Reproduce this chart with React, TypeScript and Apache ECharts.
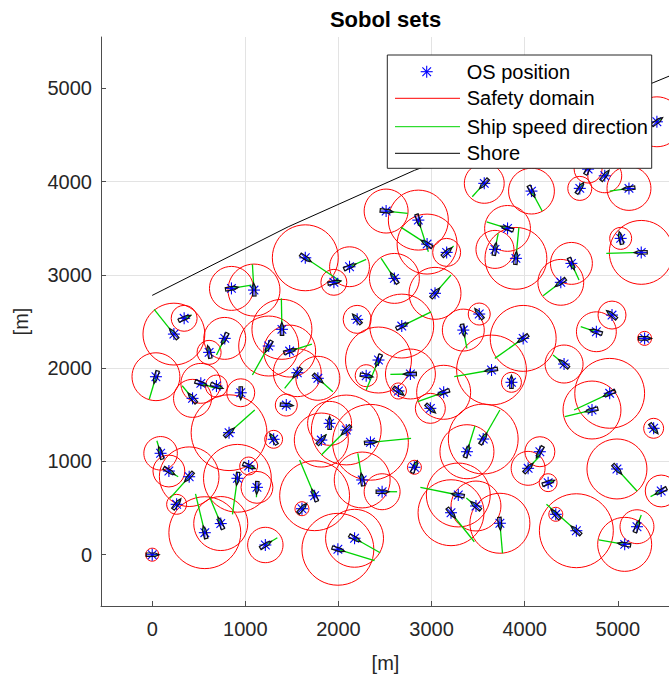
import React, { useEffect, useRef } from 'react';
import * as echarts from 'echarts';

// OS positions [x, y] in metres
const osPositions: [number, number][] = [
  [0, 0], [1215, 104], [565, 236], [736, 334], [262, 540], [397, 836], [179, 897], [90, 1087],
  [825, 1308], [1304, 1237], [915, 819], [1036, 951], [1125, 722], [1905, 1408], [1816, 1229],
  [2084, 1337], [2344, 1205], [2255, 801], [2469, 675], [2816, 937], [1744, 632], [1608, 493],
  [2173, 176], [1994, 58], [3287, 640], [3477, 522], [3209, 450], [3380, 1104], [3555, 1240],
  [3734, 337], [4163, 1104], [4037, 926], [4252, 772], [4334, 433], [4555, 257], [4991, 919],
  [5385, 1355], [5466, 683], [5206, 300], [5074, 111], [1644, 3183], [1951, 2920], [2119, 3087],
  [2601, 2962], [3037, 2802], [3162, 3241], [2952, 3330], [2858, 3587], [2201, 2523], [2680, 2451],
  [3341, 2408], [3512, 2580], [2430, 2087], [2298, 1919], [2773, 1937], [2644, 1755], [3130, 1741],
  [2987, 1569], [1476, 2183], [1558, 1951], [1779, 1891], [1440, 1604], [3816, 3498], [3681, 3273],
  [3906, 3177], [4502, 3123], [4388, 2920], [5031, 3391], [5252, 3241], [3984, 2319], [4770, 2390],
  [4938, 2569], [5288, 2319], [3644, 1980], [3858, 1848], [4423, 2044], [4913, 1730], [4723, 1551],
  [851, 2855], [1093, 2837], [343, 2534], [233, 2365], [779, 2319], [611, 2169], [1393, 2416],
  [1251, 2237], [40, 1908], [522, 1837], [690, 1808], [433, 1676], [951, 1736], [2512, 3684],
  [3566, 3981], [4073, 3898], [4592, 3927], [4860, 4062], [5120, 3927], [5420, 4641], [4681, 4134],
];

// Safety domain radius for each OS, metres
const safetyRadius: number[] = [
  70, 190, 386, 290, 107, 320, 171, 180,
  407, 96, 364, 96, 171, 236, 290,
  375, 407, 300, 193, 75, 375, 75,
  311, 386, 343, 268, 354, 290, 375,
  322, 161, 182, 96, 75, 397, 322,
  107, 171, 182, 290, 354, 139, 214,
  268, 279, 150, 322, 322, 150, 343,
  225, 118, 354, 118, 268, 86, 290,
  161, 279, 257, 236, 118, 246, 204,
  332, 225, 246, 118, 343, 354, 214,
  150, 75, 375, 107, 204, 375, 311,
  236, 279, 139, 332, 225, 129, 322,
  322, 257, 214, 118, 204, 150, 236,
  214, 246, 129, 182, 236, 268, 150,
];

// End point of the ship speed direction segment for each OS
const speedEnds: [number, number][] = [
  [60, 0], [1344, 182], [465, 651], [618, 615], [300, 590], [190, 604], [279, 836], [50, 1222],
  [1101, 1551], [1270, 1290], [862, 433], [1090, 930], [1119, 615], [1905, 1470], [1870, 1290],
  [1816, 1069], [2780, 1248], [2208, 1087], [2630, 675], [2840, 990], [1583, 1015], [1650, 540],
  [2448, 21], [2387, -64], [2880, 722], [3373, 608], [3459, 139], [3466, 1379], [3734, 1551],
  [3762, 15], [4123, 1033], [4163, 1058], [4300, 790], [4300, 470], [4234, 540], [5206, 683],
  [5420, 1310], [5352, 622], [5252, 425], [4795, 158], [2030, 2926], [2000, 2930], [2298, 3166],
  [2459, 3177], [3209, 2998], [3237, 3309], [2673, 3509], [2966, 3248], [2154, 2577], [2995, 2604],
  [3380, 2212], [3480, 2620], [2298, 1765], [2350, 1910], [2558, 1934], [2690, 1720], [2851, 1640],
  [3030, 1530], [1715, 2258], [1422, 1784], [1940, 1747], [1490, 1600], [3591, 3569], [3716, 3445],
  [3938, 3509], [4584, 2944], [4198, 2776], [5020, 3440], [4877, 3230], [3680, 2105], [4602, 2444],
  [4900, 2600], [5340, 2319], [3244, 1908], [3858, 1900], [4305, 2140], [4531, 1551], [4431, 1479],
  [1065, 2891], [1076, 3112], [422, 2569], [21, 2630], [690, 2140], [600, 2220], [1387, 2748],
  [1076, 1926], [-32, 1666], [680, 1784], [740, 1790], [322, 1811], [951, 1680], [2744, 3659],
  [3437, 3837], [4188, 3684], [4620, 3970], [4890, 4100], [4913, 3898], [5460, 4670], [4700, 4170],
];

// Shore polyline
const shoreLine: [number, number][] = [
  [0, 2780], [1460, 3515], [2815, 4120], [5380, 5060], [5550, 5130],
];

const tickValues: number[] = [0, 1000, 2000, 3000, 4000, 5000];
const legendLabels: string[] = ['OS position', 'Safety domain', 'Ship speed direction', 'Shore'];

const FONT = 'Liberation Sans, Arial, Helvetica, sans-serif';
const TEXT_COLOR = '#262626';
const RED = '#ff0000';
const GREEN = '#00d400';
const BLUE = '#0000ff';

function starChildren(cx: number, cy: number, a: number, z?: number) {
  const d = a * 0.72;
  const segs = [
    [cx - a, cy, cx + a, cy],
    [cx, cy - a, cx, cy + a],
    [cx - d, cy - d, cx + d, cy + d],
    [cx - d, cy + d, cx + d, cy - d],
  ];
  return segs.map((s) => {
    const el: any = {
      type: 'line',
      shape: { x1: s[0], y1: s[1], x2: s[2], y2: s[3] },
      style: { stroke: BLUE, lineWidth: 1.1 },
    };
    if (z !== undefined) el.z = z;
    return el;
  });
}

export default function App() {
  const ref = useRef<HTMLDivElement>(null);

  useEffect(() => {
    if (!ref.current) return;
    const chart = echarts.init(ref.current, undefined, { renderer: 'svg' });

    const domainData = osPositions.map((p, i) => [p[0], p[1], safetyRadius[i]]);
    const speedData = osPositions.map((p, i) => [p[0], p[1], speedEnds[i][0], speedEnds[i][1]]);

    const axisCommon = {
      type: 'value' as const,
      min: -550,
      max: 5550,
      axisLine: { show: true, onZero: false, lineStyle: { color: '#4d4d4d', width: 1 } },
      axisTick: { show: true, inside: true, length: 5, customValues: tickValues, lineStyle: { color: '#4d4d4d' } },
      axisLabel: {
        customValues: tickValues,
        fontSize: 20,
        fontFamily: FONT,
        color: TEXT_COLOR,
        formatter: (v: number) => (v % 1000 === 0 ? String(v) : ''),
      },
      splitLine: { show: true, showMinLine: false, showMaxLine: false, lineStyle: { color: '#e3e3e3', width: 1 } },
    };

    const legendTop = 55;
    const legendLeft = 387.3;
    const legendRight = 651.7;
    const legendBottom = 168.3;
    const rowY = [71.7, 98.3, 126.7, 153.3];
    const lineColors = [BLUE, RED, GREEN, '#000000'];

    const legendGraphics: any[] = [
      {
        type: 'rect',
        z: 100,
        shape: { x: legendLeft, y: legendTop, width: legendRight - legendLeft, height: legendBottom - legendTop },
        style: { fill: '#ffffff', stroke: TEXT_COLOR, lineWidth: 1 },
      },
    ];
    legendLabels.forEach((label, i) => {
      if (i === 0) {
        legendGraphics.push(...starChildren(426.7, rowY[0], 6, 101));
      } else {
        legendGraphics.push({
          type: 'line',
          z: 101,
          shape: { x1: 395, y1: rowY[i], x2: 460, y2: rowY[i] },
          style: { stroke: lineColors[i], lineWidth: 1 },
        });
      }
      legendGraphics.push({
        type: 'text',
        z: 101,
        x: 466.7,
        y: rowY[i],
        style: { text: label, fontSize: 20, fontFamily: FONT, fill: '#000000', verticalAlign: 'middle', align: 'left' },
      });
    });

    chart.setOption({
      animation: false,
      grid: { left: 101, top: 37, width: 569, height: 569, containLabel: false },
      xAxis: { ...axisCommon, axisLabel: { ...axisCommon.axisLabel, margin: 13 } },
      yAxis: { ...axisCommon, axisLabel: { ...axisCommon.axisLabel, margin: 9 } },
      graphic: [
        {
          type: 'text',
          x: 385.5,
          y: 19,
          style: { text: 'Sobol sets', fontSize: 22, fontWeight: 'bold', fontFamily: FONT, fill: '#000000', align: 'center', verticalAlign: 'middle' },
        },
        {
          type: 'text',
          x: 385.5,
          y: 663,
          style: { text: '[m]', fontSize: 20, fontFamily: FONT, fill: TEXT_COLOR, align: 'center', verticalAlign: 'middle' },
        },
        {
          type: 'text',
          x: 21,
          y: 321.5,
          rotation: Math.PI / 2,
          style: { text: '[m]', fontSize: 20, fontFamily: FONT, fill: TEXT_COLOR, align: 'center', verticalAlign: 'middle' },
        },
        ...legendGraphics,
      ],
      series: [
        {
          name: 'Safety domain',
          type: 'custom',
          clip: true,
          z: 2,
          data: domainData,
          encode: { x: 0, y: 1 },
          renderItem: (params: any, api: any) => {
            const c = api.coord([api.value(0), api.value(1)]);
            const s = api.size([api.value(2), api.value(2)]);
            return {
              type: 'circle',
              shape: { cx: c[0], cy: c[1], r: s[0] },
              style: { fill: 'none', stroke: RED, lineWidth: 1 },
            };
          },
        },
        {
          name: 'Shore',
          type: 'line',
          z: 3,
          data: shoreLine,
          showSymbol: false,
          symbol: 'none',
          lineStyle: { color: '#000000', width: 1 },
        },
        {
          name: 'Ship speed direction',
          type: 'custom',
          clip: true,
          z: 4,
          data: speedData,
          encode: { x: [0, 2], y: [1, 3] },
          renderItem: (params: any, api: any) => {
            const a = api.coord([api.value(0), api.value(1)]);
            const b = api.coord([api.value(2), api.value(3)]);
            return {
              type: 'line',
              shape: { x1: a[0], y1: a[1], x2: b[0], y2: b[1] },
              style: { stroke: GREEN, lineWidth: 1.3 },
            };
          },
        },
        {
          name: 'OS position',
          type: 'custom',
          clip: true,
          z: 5,
          data: osPositions,
          encode: { x: 0, y: 1 },
          renderItem: (params: any, api: any) => {
            const c = api.coord([api.value(0), api.value(1)]);
            return { type: 'group', children: starChildren(c[0], c[1], 6) };
          },
        },
        {
          name: 'Ship',
          type: 'custom',
          clip: true,
          z: 6,
          data: speedData,
          encode: { x: [0, 2], y: [1, 3] },
          renderItem: (params: any, api: any) => {
            const a = api.coord([api.value(0), api.value(1)]);
            const b = api.coord([api.value(2), api.value(3)]);
            const ang = Math.atan2(b[1] - a[1], b[0] - a[0]);
            const ux = Math.cos(ang);
            const uy = Math.sin(ang);
            const vx = -uy;
            const vy = ux;
            const hull = [
              [7, 0], [3, 1.7], [-6, 1.7], [-6, -1.7], [3, -1.7],
            ].map(([u, v]) => [a[0] + u * ux + v * vx, a[1] + u * uy + v * vy]);
            return {
              type: 'polygon',
              shape: { points: hull },
              style: { fill: 'none', stroke: '#111111', lineWidth: 1.2 },
            };
          },
        },
      ],
    });

    return () => {
      chart.dispose();
    };
  }, []);

  return (
    <div
      ref={ref}
      style={{ position: 'absolute', left: 0, top: 0, width: 669, height: 675, background: '#ffffff' }}
    />
  );
}
